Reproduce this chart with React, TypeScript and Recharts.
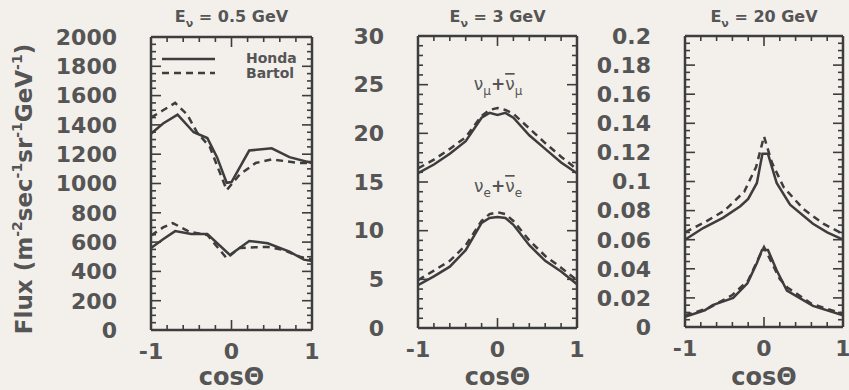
import React from 'react';
import { LineChart, Line, XAxis, YAxis, ReferenceLine } from 'recharts';

const INK = '#3d3d3d';
const TEXT = '#555555';
const FONT = '"DejaVu Sans", sans-serif';

// x axis ticks (shared by all three panels)
const X_LABEL_TICKS = [-1, 0, 1];
const X_MARKS = [-0.8, -0.6, -0.4, -0.2, 0, 0.2, 0.4, 0.6, 0.8];
const X_LONG_MARKS = [0];

// E = 0.5 GeV
const lowMuHondaX = [-1, -0.85, -0.67, -0.47, -0.3, -0.18, -0.06, 0.0, 0.22, 0.5, 0.72, 1];
const lowMuHondaY = [1340, 1410, 1470, 1350, 1310, 1180, 1005, 1010, 1225, 1240, 1180, 1140];
const lowMuBartolX = [-1, -0.85, -0.7, -0.55, -0.43, -0.27, -0.06, 0.1, 0.3, 0.5, 0.7, 0.85, 1];
const lowMuBartolY = [1450, 1500, 1550, 1470, 1350, 1250, 955, 1060, 1140, 1165, 1150, 1140, 1140];
const lowEHondaX = [-1, -0.85, -0.7, -0.5, -0.3, -0.02, 0.22, 0.45, 0.72, 0.9, 1];
const lowEHondaY = [560, 620, 675, 655, 655, 512, 608, 592, 535, 480, 470];
const lowEBartolX = [-1, -0.85, -0.73, -0.52, -0.3, -0.06, 0.1, 0.3, 0.45, 0.65, 0.85, 1];
const lowEBartolY = [645, 700, 730, 670, 648, 490, 560, 565, 567, 546, 500, 480];
const lowYTicks = [0, 200, 400, 600, 800, 1000, 1200, 1400, 1600, 1800, 2000];

// E = 3 GeV
const midX = [-1, -0.8, -0.6, -0.4, -0.2, -0.1, 0, 0.1, 0.2, 0.4, 0.6, 0.8, 1];
const midMuHondaY = [15.9, 16.8, 17.9, 19.2, 21.6, 22.1, 21.9, 22.1, 21.6, 19.8, 18.4, 17.0, 15.9];
const midMuBartolY = [16.4, 17.3, 18.4, 19.6, 21.8, 22.4, 22.6, 22.4, 22.0, 20.5, 19.0, 17.6, 16.3];
const midEHondaY = [4.4, 5.3, 6.3, 8.0, 10.8, 11.3, 11.4, 11.3, 10.6, 8.5, 6.9, 5.8, 4.5];
const midEBartolY = [4.9, 5.9, 6.9, 8.5, 11.0, 11.7, 11.9, 11.7, 11.0, 9.0, 7.4, 6.2, 4.9];
const midYTicks = [0, 5, 10, 15, 20, 25, 30];

// E = 20 GeV
const highMuHondaX = [-1, -0.77, -0.52, -0.3, -0.2, -0.09, -0.02, 0.05, 0.16, 0.33, 0.62, 0.8, 1];
const highMuHondaY = [0.06, 0.068, 0.075, 0.083, 0.088, 0.099, 0.119, 0.119, 0.099, 0.084, 0.071, 0.065, 0.06];
const highMuBartolX = [-1, -0.75, -0.5, -0.25, -0.1, 0, 0.1, 0.25, 0.5, 0.75, 1];
const highMuBartolY = [0.065, 0.072, 0.08, 0.093, 0.11, 0.131, 0.113, 0.096, 0.081, 0.071, 0.064];
const highEHondaX = [-1, -0.75, -0.65, -0.39, -0.21, -0.09, -0.025, 0.05, 0.16, 0.29, 0.62, 1];
const highEHondaY = [0.007, 0.0115, 0.015, 0.02, 0.03, 0.044, 0.053, 0.053, 0.039, 0.025, 0.0145, 0.008];
const highEBartolX = [-1, -0.7, -0.4, -0.2, -0.08, 0, 0.1, 0.2, 0.3, 0.6, 1];
const highEBartolY = [0.008, 0.013, 0.022, 0.032, 0.046, 0.055, 0.044, 0.033, 0.027, 0.016, 0.009];
const highYTicks = [0, 0.02, 0.04, 0.06, 0.08, 0.1, 0.12, 0.14, 0.16, 0.18, 0.2];

const zip = (xs: number[], ys: number[]) => xs.map((x, i) => ({ x, y: ys[i] }));

// unlabelled tick mark positions every `step` strictly inside (0, max)
const marks = (max: number, step: number) => {
  const out: number[] = [];
  const n = Math.round(max / step);
  for (let i = 1; i < n; i++) out.push(+(i * step).toFixed(5));
  return out;
};

interface Series {
  data: { x: number; y: number }[];
  dashed: boolean;
}

interface PanelProps {
  left: number;
  width: number;
  yWidth: number;
  top: number;
  xHeight: number;
  right: number;
  yMax: number;
  yTicks: number[];
  minorStep: number;
  series: Series[];
}

const H = 390;
const TICK_STYLE = { fontSize: 22, fontWeight: 'bold', fill: TEXT, fontFamily: FONT };
const FRAME = { stroke: INK, strokeWidth: 2.5 };
const SHORT = 5;
const LONG = 10;

function Panel({ left, width, yWidth, top, xHeight, right, yMax, yTicks, minorStep, series }: PanelProps) {
  const dom: [number, number] = [0, yMax];
  // data units per pixel, to size the inner tick marks
  const ux = 2 / (width - yWidth - right);
  const uy = yMax / (H - top - xHeight);

  const ySeg = marks(yMax, minorStep).map((v) => ({ v, len: yTicks.includes(v) ? LONG : SHORT }));
  const xSeg = X_MARKS.map((v) => ({ v, len: X_LONG_MARKS.includes(v) ? LONG : SHORT }));

  return (
    <div style={{ position: 'absolute', left, top: 0 }}>
      <LineChart width={width} height={H} margin={{ top, right, bottom: 0, left: 0 }}>
        <XAxis
          xAxisId="x" type="number" dataKey="x" domain={[-1, 1]} allowDataOverflow
          ticks={X_LABEL_TICKS} interval={0} tickLine={false} tickSize={0} tickMargin={13}
          height={xHeight} axisLine={FRAME} tick={TICK_STYLE}
          label={{ value: 'cosΘ', position: 'insideBottom', offset: 5, fontSize: 24, fontWeight: 'bold', fill: TEXT, fontFamily: FONT }}
        />
        <YAxis
          yAxisId="y" type="number" domain={dom} allowDataOverflow ticks={yTicks} interval={0}
          width={yWidth} tickLine={false} tickSize={0} tickMargin={34} axisLine={FRAME} tick={TICK_STYLE}
        />

        {/* top and right sides of the frame */}
        <ReferenceLine xAxisId="x" yAxisId="y" y={yMax} stroke={INK} strokeWidth={2.5} />
        <ReferenceLine xAxisId="x" yAxisId="y" x={1} stroke={INK} strokeWidth={2.5} />

        {/* inner tick marks, left and right */}
        {ySeg.map(({ v, len }) => (
          <ReferenceLine
            key={`l${v}`} xAxisId="x" yAxisId="y" stroke={INK} strokeWidth={1.6} ifOverflow="visible"
            segment={[{ x: -1, y: v }, { x: -1 + len * ux, y: v }]}
          />
        ))}
        {ySeg.map(({ v, len }) => (
          <ReferenceLine
            key={`r${v}`} xAxisId="x" yAxisId="y" stroke={INK} strokeWidth={1.6} ifOverflow="visible"
            segment={[{ x: 1 - len * ux, y: v }, { x: 1, y: v }]}
          />
        ))}
        {/* inner tick marks, bottom and top */}
        {xSeg.map(({ v, len }) => (
          <ReferenceLine
            key={`b${v}`} xAxisId="x" yAxisId="y" stroke={INK} strokeWidth={1.6} ifOverflow="visible"
            segment={[{ x: v, y: 0 }, { x: v, y: len * uy }]}
          />
        ))}
        {xSeg.map(({ v, len }) => (
          <ReferenceLine
            key={`t${v}`} xAxisId="x" yAxisId="y" stroke={INK} strokeWidth={1.6} ifOverflow="visible"
            segment={[{ x: v, y: yMax - len * uy }, { x: v, y: yMax }]}
          />
        ))}

        {series.map((s, i) => (
          <Line
            key={i}
            xAxisId="x"
            yAxisId="y"
            data={s.data}
            dataKey="y"
            type="linear"
            stroke={INK}
            strokeWidth={2.5}
            strokeDasharray={s.dashed ? '7 5' : undefined}
            dot={false}
            activeDot={false}
            isAnimationActive={false}
          />
        ))}
      </LineChart>
    </div>
  );
}

function Title({ x, energy }: { x: number; energy: string }) {
  return (
    <text x={x} y={22} textAnchor="middle" fontSize={16} fontWeight="bold" fill={TEXT} fontFamily={FONT}>
      E<tspan fontSize={11} dy={5}>ν</tspan>
      <tspan dy={-5}>{` = ${energy} GeV`}</tspan>
    </text>
  );
}

function Nu({ x, y, flavour }: { x: number; y: number; flavour: string }) {
  return (
    <text x={x} y={y} textAnchor="middle" fontSize={17} fill={TEXT} fontFamily={FONT}>
      ν<tspan fontSize={12} dy={5}>{flavour}</tspan>
      <tspan dy={-5} fontWeight="bold">+</tspan>
      <tspan style={{ textDecoration: 'overline' }}>ν</tspan>
      <tspan fontSize={12} dy={5}>{flavour}</tspan>
    </text>
  );
}

export default function App() {
  return (
    <div style={{ position: 'absolute', left: 0, top: 0, width: 849, height: H, background: '#f3f0ec', overflow: 'hidden' }}>
      <Panel
        left={30} width={290} yWidth={121} top={37} xHeight={60} right={8}
        yMax={2000} yTicks={lowYTicks} minorStep={50}
        series={[
          { data: zip(lowMuHondaX, lowMuHondaY), dashed: false },
          { data: zip(lowMuBartolX, lowMuBartolY), dashed: true },
          { data: zip(lowEHondaX, lowEHondaY), dashed: false },
          { data: zip(lowEBartolX, lowEBartolY), dashed: true },
        ]}
      />
      <Panel
        left={320} width={265} yWidth={98} top={36} xHeight={62} right={8}
        yMax={30} yTicks={midYTicks} minorStep={1}
        series={[
          { data: zip(midX, midMuHondaY), dashed: false },
          { data: zip(midX, midMuBartolY), dashed: true },
          { data: zip(midX, midEHondaY), dashed: false },
          { data: zip(midX, midEBartolY), dashed: true },
        ]}
      />
      <Panel
        left={585} width={264} yWidth={100} top={36} xHeight={63} right={6}
        yMax={0.2} yTicks={highYTicks} minorStep={0.005}
        series={[
          { data: zip(highMuHondaX, highMuHondaY), dashed: false },
          { data: zip(highMuBartolX, highMuBartolY), dashed: true },
          { data: zip(highEHondaX, highEHondaY), dashed: false },
          { data: zip(highEBartolX, highEBartolY), dashed: true },
        ]}
      />

      <svg width={849} height={H} style={{ position: 'absolute', left: 0, top: 0, pointerEvents: 'none' }}>
        <Title x={231.5} energy="0.5" />
        <Title x={497.5} energy="3" />
        <Title x={764} energy="20" />

        <text
          transform="translate(32,189) rotate(-90)"
          textAnchor="middle" fontSize={23} fontWeight="bold" fill={TEXT} fontFamily={FONT}
        >
          Flux (m<tspan fontSize={14} dy={-10}>-2</tspan>
          <tspan dy={10}>sec</tspan><tspan fontSize={14} dy={-10}>-1</tspan>
          <tspan dy={10}>sr</tspan><tspan fontSize={14} dy={-10}>-1</tspan>
          <tspan dy={10}>GeV</tspan><tspan fontSize={14} dy={-10}>-1</tspan>
          <tspan dy={10}>)</tspan>
        </text>

        {/* legend */}
        <line x1={162} x2={215} y1={59} y2={59} stroke={INK} strokeWidth={2.5} />
        <line x1={162} x2={215} y1={73} y2={73} stroke={INK} strokeWidth={2.5} strokeDasharray="7 5" />
        <text x={246} y={63} fontSize={14} fontWeight="bold" fill={TEXT} fontFamily={FONT}>Honda</text>
        <text x={246} y={78} fontSize={14} fontWeight="bold" fill={TEXT} fontFamily={FONT}>Bartol</text>

        <Nu x={498} y={90} flavour="μ" />
        <Nu x={498} y={192} flavour="e" />
      </svg>
    </div>
  );
}
